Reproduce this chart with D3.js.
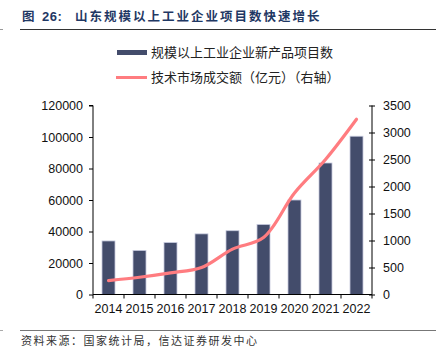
<!DOCTYPE html>
<html><head><meta charset="utf-8">
<script src="https://cdn.jsdelivr.net/npm/d3@7"></script>
<style>body{margin:0;background:#fff;}svg{display:block;}</style>
</head><body>
<script>
const years = ["2014","2015","2016","2017","2018","2019","2020","2021","2022"];
const projects = [34000, 28000, 33000, 38500, 40500, 44500, 60000, 83500, 100500];
const techTrade = [258, 319, 400, 500, 841, 1056, 1880, 2500, 3245];
const leftTicks = [0,20000,40000,60000,80000,100000,120000];
const rightTicks = [0,500,1000,1500,2000,2500,3000,3500];
const titleFig = "图";
const titleNum = "26:";
const title = "山东规模以上工业企业项目数快速增长";
const legendBar = "规模以上工业企业新产品项目数";
const legendLine = "技术市场成交额（亿元）（右轴）";
const source = "资料来源：国家统计局，信达证券研发中心";

const W=436,H=351;
const svg=d3.select("body").append("svg").attr("width",W).attr("height",H);
const L=93,R=372,T=105.5,B=294.5;
const x=d3.scaleBand().domain(years).range([L,R]).paddingInner(0.58).paddingOuter(0.29);
const xb=d3.scaleBand().domain(years).range([L,R]);
const yl=d3.scaleLinear().domain([0,120000]).range([B,T]);
const yr=d3.scaleLinear().domain([0,3500]).range([B,T]);

// title
const tcol="#1F3864";
svg.append("text").attr("x",22).attr("y",21).attr("font-family","Noto Sans CJK SC").attr("font-weight","bold")
  .attr("font-size",12.5).attr("fill",tcol).text(titleFig);
svg.append("text").attr("x",42).attr("y",21).attr("font-family","Liberation Sans, Arial").attr("font-weight","bold")
  .attr("font-size",13).attr("letter-spacing",0.5).attr("fill",tcol).text(titleNum);
svg.append("text").attr("x",75).attr("y",21).attr("font-family","Noto Sans CJK SC").attr("font-weight","bold")
  .attr("font-size",12.5).attr("letter-spacing",2).attr("fill",tcol).text(title);
svg.append("line").attr("x1",20).attr("x2",436).attr("y1",29.5).attr("y2",29.5).attr("stroke","#333").attr("stroke-width",1);
svg.append("line").attr("x1",0).attr("x2",3).attr("y1",29.5).attr("y2",29.5).attr("stroke","#999").attr("stroke-width",1);

// legend
svg.append("rect").attr("x",117).attr("y",50).attr("width",30).attr("height",5).attr("fill","#434C6B");
svg.append("text").attr("x",151).attr("y",57).attr("font-family","Noto Sans CJK SC").attr("font-size",13).attr("fill","#222").text(legendBar);
svg.append("line").attr("x1",116).attr("x2",147).attr("y1",77.5).attr("y2",77.5).attr("stroke","#FF7C80").attr("stroke-width",3);
svg.append("text").attr("x",151).attr("y",82).attr("font-family","Noto Sans CJK SC").attr("font-size",13).attr("fill","#222").text(legendLine);

// bars
svg.selectAll("rect.bar").data(years).enter().append("rect").attr("class","bar")
  .attr("x",d=>x(d)).attr("width",x.bandwidth())
  .attr("y",(d,i)=>yl(projects[i])).attr("height",(d,i)=>B-yl(projects[i]))
  .attr("fill","#434C6B").attr("stroke","#C9CCE0").attr("stroke-width",0.8);

// line
const line=d3.line().x((d,i)=>xb(years[i])+xb.bandwidth()/2).y(d=>yr(d)).curve(d3.curveCatmullRom.alpha(0.5));
svg.append("path").datum(techTrade).attr("d",line).attr("fill","none").attr("stroke","#FF7C80").attr("stroke-width",3.2).attr("stroke-linecap","round");

// axes
const font="Liberation Sans, Arial, sans-serif";
const gl=svg.append("g").attr("transform",`translate(${L},0)`).call(d3.axisLeft(yl).tickValues(leftTicks).tickSize(4).tickPadding(6).tickFormat(d3.format("d")));
const gr=svg.append("g").attr("transform",`translate(${R},0)`).call(d3.axisRight(yr).tickValues(rightTicks).tickSize(3).tickPadding(8).tickFormat(d3.format("d")));
gr.selectAll(".tick line").attr("x1",-3).attr("x2",3);
const gx=svg.append("g").attr("transform",`translate(0,${B})`).call(d3.axisBottom(x).tickSize(0).tickPadding(10));
const bounds=years.map(d=>xb(d)).concat([R]);
svg.selectAll("line.xt").data(bounds).enter().append("line").attr("x1",d=>d).attr("x2",d=>d).attr("y1",B).attr("y2",B+4).attr("stroke","#000");
[gl,gr,gx].forEach(g=>{g.selectAll("text").attr("font-family",font).attr("font-size",12.5).attr("fill","#111");
  g.selectAll("path,line").attr("stroke","#000");});
gx.select("path").attr("d",`M${L},0H${R}`);
gl.select("path").attr("d",`M-4,${T}H0V${B}`);
gr.select("path").attr("d",`M0,${T}V${B}`);

// footer
svg.append("line").attr("x1",20).attr("x2",436).attr("y1",330.5).attr("y2",330.5).attr("stroke","#777").attr("stroke-width",1);
svg.append("line").attr("x1",0).attr("x2",3).attr("y1",330.5).attr("y2",330.5).attr("stroke","#aaa").attr("stroke-width",1);
svg.append("text").attr("x",21).attr("y",345).attr("font-family","Noto Sans CJK SC").attr("font-size",11).attr("letter-spacing",1.5).attr("fill","#333").text(source);
</script>
</body></html>
